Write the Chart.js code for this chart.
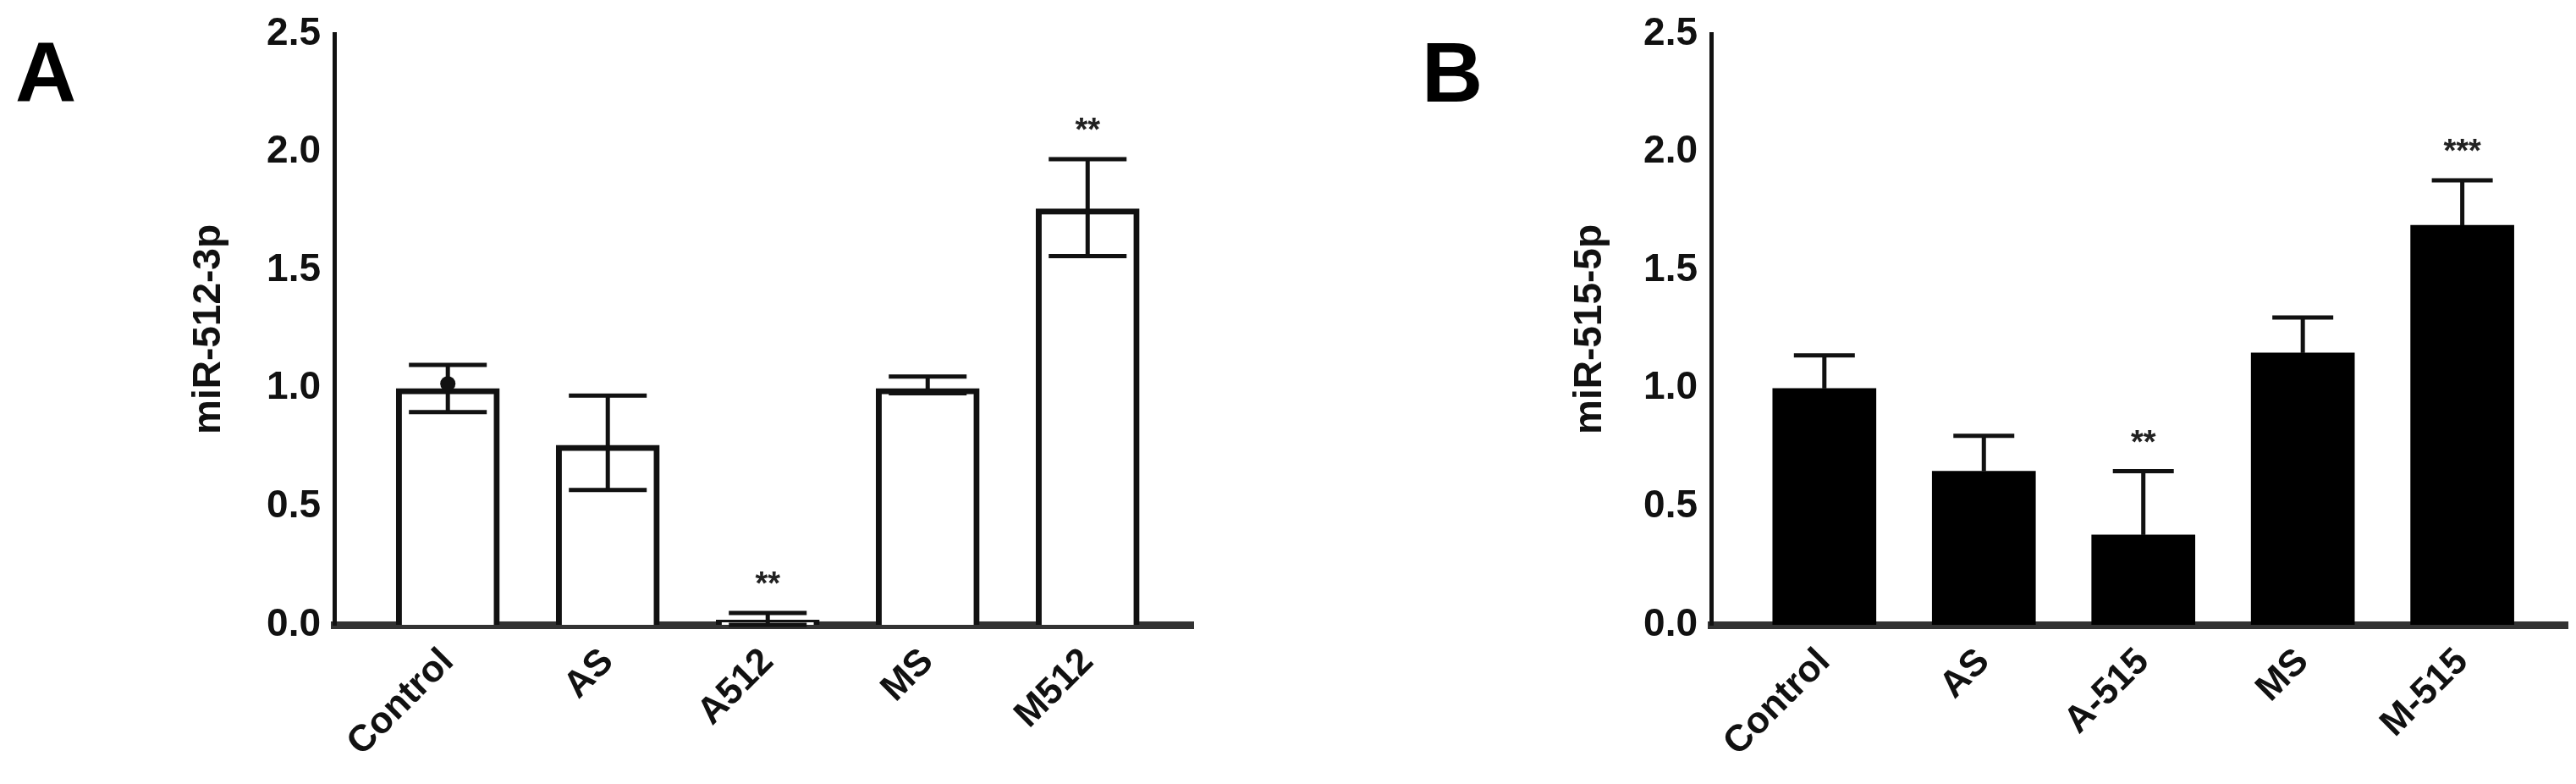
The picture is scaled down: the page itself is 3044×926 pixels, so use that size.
<!DOCTYPE html>
<html>
<head>
<meta charset="utf-8">
<script src="https://cdn.jsdelivr.net/npm/chart.js@4.4.0/dist/chart.umd.min.js"></script>
<style>
  body { margin: 0; background: #fff; }
  .wrap { position: absolute; top: 0; width: 1522px; height: 926px; }
  .letter { position: absolute; font: bold 100px "Liberation Sans", Arial, sans-serif; }
</style>
</head>
<body>
<div class="wrap" style="left:0"><canvas id="chartA"></canvas></div>
<div class="wrap" style="left:1522px"><canvas id="chartB"></canvas></div>
<div class="letter" style="left:18px;top:28px">A</div>
<div class="letter" style="left:1680px;top:28px">B</div>
<script>
//Panel A data
const labelsA = ["Control", "AS", "A512", "MS", "M512"];
const valuesA = [1.0, 0.76, 0.02, 1.0, 1.76];
const errLowA = [0.9, 0.57, 0.0, 0.98, 1.56];
const errHighA = [1.1, 0.97, 0.05, 1.05, 1.97];
const starsA = ["", "", "**", "", "**"];

//Panel B data
const labelsB = ["Control", "AS", "A-515", "MS", "M-515"];
const valuesB = [1.0, 0.65, 0.38, 1.15, 1.69];
const errHighB = [1.14, 0.8, 0.65, 1.3, 1.88];
const starsB = ["", "", "**", "", "***"];

const yTicks = [0, 0.5, 1.0, 1.5, 2.0, 2.5];
const FONT = "'Liberation Sans Narrow', 'Liberation Sans', Arial, sans-serif";

//error bars, stars and the control dot
const extras = {
  id: "extras",
  afterDatasetsDraw(chart, args, opts) {
    const ctx = chart.ctx;
    const x = chart.scales.x, y = chart.scales.y;
    ctx.save();
    ctx.strokeStyle = "#111";
    ctx.lineWidth = 5;
    opts.high.forEach((h, i) => {
      const cx = x.getPixelForValue(i);
      const lo = opts.low ? opts.low[i] : opts.values[i];
      ctx.beginPath();
      ctx.moveTo(cx, y.getPixelForValue(lo));
      ctx.lineTo(cx, y.getPixelForValue(h));
      ctx.stroke();
      ctx.beginPath();
      ctx.moveTo(cx - opts.cap, y.getPixelForValue(h));
      ctx.lineTo(cx + opts.cap, y.getPixelForValue(h));
      if (opts.low) {
        ctx.moveTo(cx - opts.cap, y.getPixelForValue(lo));
        ctx.lineTo(cx + opts.cap, y.getPixelForValue(lo));
      }
      ctx.stroke();
      if (opts.stars[i]) {
        ctx.fillStyle = "#222";
        ctx.font = "bold 38px " + FONT;
        ctx.textAlign = "center";
        ctx.fillText(opts.stars[i], cx, y.getPixelForValue(h) - 22);
      }
    });
    if (opts.dot) {
      ctx.fillStyle = "#111";
      ctx.beginPath();
      ctx.arc(x.getPixelForValue(0), y.getPixelForValue(1.02), 9, 0, Math.PI * 2);
      ctx.fill();
    }
    ctx.restore();
  },
};

const makeChart = (id, labels, values, fill, title, extraOpts, leftPad, leftW, rightPad) => {
  return new Chart(document.getElementById(id), {
    type: "bar",
    data: {
      datasets: [
        {
          data: values.map((v, i) => ({ x: i, y: v })),
          backgroundColor: fill,
          borderColor: "#111",
          borderWidth: fill === "#fff" ? 7 : 0,
          barThickness: 122,
        },
      ],
    },
    plugins: [extras],
    options: {
      responsive: false,
      animation: false,
      layout: { padding: { top: 40, right: rightPad, left: leftPad, bottom: 0 } },
      plugins: { legend: { display: false }, tooltip: { enabled: false }, extras: extraOpts },
      scales: {
        x: {
          type: "linear",
          offset: false,
          min: -0.71,
          max: 4.66,
          afterBuildTicks: (s) => { s.ticks = labels.map((l, i) => ({ value: i })); },
          afterFit: (s) => { s.height = 188; },
          ticks: {
            callback: (v) => labels[v],
            maxRotation: 45,
            minRotation: 45,
            autoSkip: false,
            color: "#111",
            font: { family: FONT, size: 44, weight: "bold" },
            padding: 6,
          },
          grid: { display: false, offset: false, drawTicks: true, tickLength: 12, tickWidth: 4, tickColor: "#333" },
          border: { color: "#333", width: 9 },
        },
        y: {
          min: 0,
          max: 2.5,
          afterBuildTicks: (s) => { s.ticks = yTicks.map((v) => ({ value: v })); },
          afterFit: (s) => { s.width = leftW; },
          ticks: {
            callback: (v) => v.toFixed(1),
            color: "#111",
            font: { family: FONT, size: 46, weight: "bold" },
            padding: 6,
          },
          title: {
            display: true,
            text: title,
            color: "#111",
            font: { family: FONT, size: 46, weight: "bold" },
            padding: 0,
          },
          grid: { display: false, drawTicks: true, tickLength: 10, tickWidth: 4, tickColor: "#111" },
          border: { color: "#111", width: 5 },
        },
      },
    },
  });
};

document.getElementById("chartA").width = 1522;
document.getElementById("chartA").height = 926;
document.getElementById("chartB").width = 1522;
document.getElementById("chartB").height = 926;

makeChart("chartA", labelsA, valuesA, "#fff", "miR-512-3p",
  { high: errHighA, low: errLowA, values: valuesA, stars: starsA, cap: 46, dot: true }, 220, 175, 112);
makeChart("chartB", labelsB, valuesB, "#000", "miR-515-5p",
  { high: errHighB, low: null, values: valuesB, stars: starsB, cap: 36, dot: false }, 330, 170, 10);
</script>
</body>
</html>
